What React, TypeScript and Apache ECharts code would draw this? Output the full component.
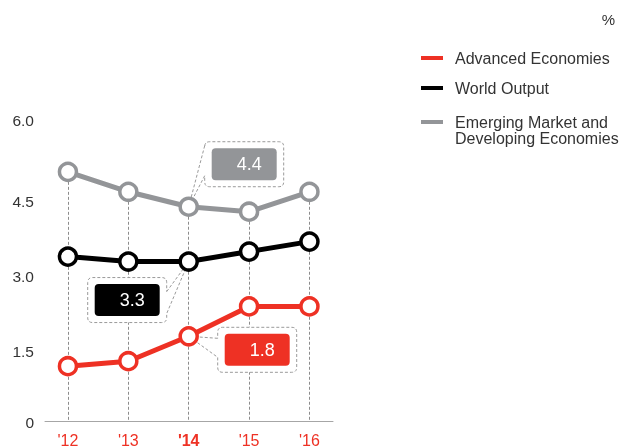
import React, { useEffect, useRef } from "react";
import * as echarts from "echarts";

const years = ["'12", "'13", "'14", "'15", "'16"];
const advanced = [1.2, 1.3, 1.8, 2.4, 2.4];
const world = [3.4, 3.3, 3.3, 3.5, 3.7];
const emerging = [5.1, 4.7, 4.4, 4.3, 4.7];
const yTicks = [0, 1.5, 3.0, 4.5, 6.0];
const highlightIndex = 2;

const seriesNames = ["Advanced Economies", "World Output", "Emerging Market and Developing Economies"];
const RED = "#ee3124";
const BLACK = "#000000";
const GRAY = "#939598";
const FONT = "Liberation Sans, Arial, sans-serif";
const AXIS_LIFT = 5;

// callout layout (relative to the highlighted point)
const callouts = [
  { series: 2, color: GRAY, dx: 16, dy: -65, side: "left", t1: 4, t2: 34 },
  { series: 1, color: BLACK, dx: -101, dy: 16, side: "right", t1: 14, t2: 36 },
  { series: 0, color: RED, dx: 29, dy: -9, side: "left", t1: 11, t2: 30 },
];

function bubblePath(x: number, y: number, w: number, h: number, r: number, side: string, b1: number, b2: number, tx: number, ty: number) {
  const R = x + w, B = y + h;
  if (side === "left") {
    return `M${x} ${b1} L${tx} ${ty} L${x} ${b2} L${x} ${B - r} Q${x} ${B} ${x + r} ${B} L${R - r} ${B} Q${R} ${B} ${R} ${B - r} L${R} ${y + r} Q${R} ${y} ${R - r} ${y} L${x + r} ${y} Q${x} ${y} ${x} ${y + r} Z`;
  }
  return `M${R} ${b1} L${tx} ${ty} L${R} ${b2} L${R} ${B - r} Q${R} ${B} ${R - r} ${B} L${x + r} ${B} Q${x} ${B} ${x} ${B - r} L${x} ${y + r} Q${x} ${y} ${x + r} ${y} L${R - r} ${y} Q${R} ${y} ${R} ${y + r} Z`;
}

export default function App() {
  const ref = useRef<HTMLDivElement>(null);
  useEffect(() => {
    if (!ref.current) return;
    const chart = echarts.init(ref.current, null, { renderer: "svg" });
    const allData = [advanced, world, emerging];
    const colors = [RED, BLACK, GRAY];
    const mainSeries = allData.map((arr, s) => ({
      id: "s" + s,
      name: seriesNames[s],
      type: "line",
      z: 3,
      silent: true,
      data: arr.map((v, i) => [i, v]),
      symbol: "circle",
      symbolSize: 17,
      lineStyle: { color: colors[s], width: 5 },
      itemStyle: { color: "#fff", borderColor: colors[s], borderWidth: 3.5 },
      emphasis: { disabled: true },
    }));
    const guideSeries = {
      id: "guides",
      name: "guides",
      type: "line",
      silent: true,
      data: [],
      symbol: "none",
      markLine: {
        silent: true,
        z: 1,
        symbol: ["none", "none"],
        label: { show: false },
        lineStyle: { color: "#8c8c8c", width: 1, type: [3, 2] },
        emphasis: { disabled: true },
        data: [],
      },
    };
    chart.setOption({
      animation: false,
      textStyle: { fontFamily: FONT },
      title: {
        text: "%",
        right: 7,
        top: 12,
        padding: 0,
        textStyle: { fontSize: 15, fontWeight: "normal", color: "#333", fontFamily: FONT },
      },
      legend: [
        {
          orient: "vertical",
          left: 421,
          top: 48,
          padding: 0,
          itemWidth: 22,
          itemHeight: 4,
          itemGap: 10,
          selectedMode: false,
          textStyle: { fontSize: 16, color: "#333", lineHeight: 20, padding: [0, 0, 0, 7], fontFamily: FONT },
          data: [
            { name: seriesNames[0], icon: "rect", itemStyle: { color: RED, borderWidth: 0 } },
            { name: seriesNames[1], icon: "rect", itemStyle: { color: BLACK, borderWidth: 0 } },
          ],
        },
        {
          orient: "vertical",
          left: 421,
          top: 98,
          padding: 0,
          itemWidth: 22,
          itemHeight: 4,
          selectedMode: false,
          formatter: () => "\nEmerging Market and\nDeveloping Economies",
          textStyle: { fontSize: 16, color: "#333", lineHeight: 16, padding: [0, 0, 0, 7], fontFamily: FONT },
          data: [{ name: seriesNames[2], icon: "rect", itemStyle: { color: GRAY, borderWidth: 0 } }],
        },
      ],
      grid: { left: 45, right: 289, top: 127, bottom: 21, containLabel: false },
      xAxis: {
        type: "value",
        min: -0.38,
        max: 4.39,
        offset: -AXIS_LIFT,
        splitLine: { show: false },
        axisTick: { show: false },
        axisLine: { onZero: false, lineStyle: { color: "#a6a6a6", width: 1 } },
        axisLabel: {
          margin: 11,
          fontSize: 16,
          color: RED,
          fontFamily: FONT,
          formatter: (v: number) => {
            const i = Math.round(v);
            if (Math.abs(v - i) > 1e-6 || i < 0 || i >= years.length) return "";
            return i === highlightIndex ? `{h|${years[i]}}` : years[i];
          },
          rich: { h: { fontWeight: "bold", fontSize: 16, color: RED, fontFamily: FONT } },
        },
      },
      yAxis: {
        type: "value",
        min: yTicks[0],
        max: yTicks[yTicks.length - 1],
        interval: yTicks[1] - yTicks[0],
        splitLine: { show: false },
        axisLine: { show: false },
        axisTick: { show: false },
        axisLabel: {
          margin: 11,
          fontSize: 15.5,
          color: "#333",
          fontFamily: FONT,
          formatter: (v: number) => {
            if (v === yTicks[0]) return "{lo|0}";
            if (v === yTicks[yTicks.length - 1]) return `{hi|${v.toFixed(1)}}`;
            return v.toFixed(1);
          },
          rich: {
            lo: { fontSize: 15.5, color: "#333", fontFamily: FONT, padding: [0, 0, 8, 0] },
            hi: { fontSize: 15.5, color: "#333", fontFamily: FONT, padding: [0, 0, 14, 0] },
          },
        },
      },
      series: [...mainSeries, guideSeries],
    });

    // guides: from each top point down to the (lifted) axis line
    const axisY = (chart.convertToPixel({ gridIndex: 0 }, [0, 0]) as number[])[1] - AXIS_LIFT;
    const guideData = years.map((_, i) => {
      const top = Math.max(advanced[i], world[i], emerging[i]);
      const px = (chart.convertToPixel({ gridIndex: 0 }, [i, top]) as number[])[0];
      return [{ coord: [i, top] }, { x: px, y: axisY }];
    });

    const W = 79, H = 45, IX = 7, IY = 6.5;
    const graphics: any[] = [];
    callouts.forEach((c, k) => {
      const v = allData[c.series][highlightIndex];
      const p = chart.convertToPixel({ gridIndex: 0 }, [highlightIndex, v]) as number[];
      const x = p[0] + c.dx;
      const y = p[1] + c.dy;
      const d = bubblePath(x, y, W, H, 5, c.side, y + c.t1, y + c.t2, p[0], p[1]);
      const name = "bubble" + k;
      echarts.graphic.registerShape(name, echarts.graphic.extendPath(d, {}) as any);
      graphics.push({
        type: name,
        z: 2,
        silent: true,
        style: { fill: "#fff", stroke: "#9a9a9a", lineWidth: 1, lineDash: [3, 2] },
      });
      graphics.push({
        type: "rect",
        z: 2,
        z2: 1,
        silent: true,
        shape: { x: x + IX, y: y + IY, width: W - 2 * IX, height: H - 2 * IY, r: 4 },
        style: { fill: c.color },
      });
      graphics.push({
        type: "text",
        z: 2,
        z2: 2,
        silent: true,
        x: x + W - IX - 15,
        y: y + H / 2,
        style: {
          text: v.toFixed(1),
          fill: "#fff",
          fontSize: 18,
          fontFamily: FONT,
          align: "right",
          verticalAlign: "middle",
        },
      });
    });
    chart.setOption({
      series: [{ id: "guides", markLine: { data: guideData } }],
      graphic: graphics,
    });

    return () => chart.dispose();
  }, []);
  return <div ref={ref} style={{ position: "fixed", left: 0, top: 0, width: 622, height: 448 }} />;
}
